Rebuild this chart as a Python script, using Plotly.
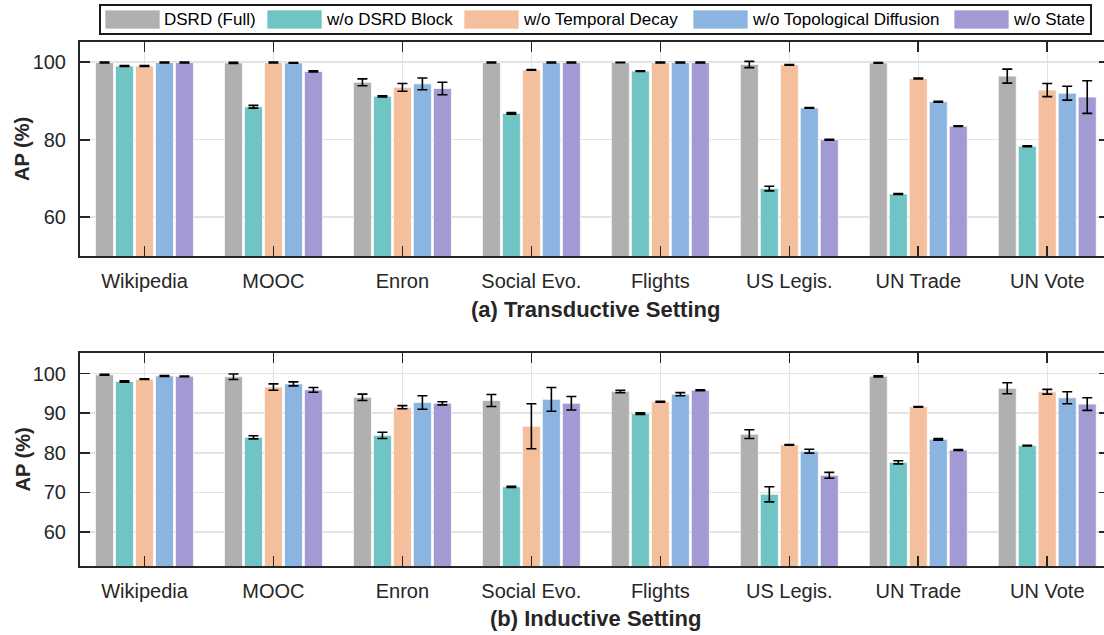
import plotly.graph_objects as go

categories = ["Wikipedia", "MOOC", "Enron", "Social Evo.", "Flights", "US Legis.", "UN Trade", "UN Vote"]
series_names = ["DSRD (Full)", "w/o DSRD Block", "w/o Temporal Decay", "w/o Topological Diffusion", "w/o State"]
series_colors = ["#b0b0b0", "#70c4c3", "#f4bf9c", "#8bb4e0", "#a29bd3"]

# (a) Transductive
full_t = [99.9, 99.8, 94.8, 99.9, 99.9, 99.4, 99.8, 96.4]
full_t_err = [0.1, 0.15, 0.9, 0.1, 0.05, 0.8, 0.1, 1.8]
block_t = [99.0, 88.5, 91.2, 86.8, 97.7, 67.4, 66.0, 78.3]
block_t_err = [0.1, 0.35, 0.15, 0.2, 0.1, 0.6, 0.1, 0.1]
decay_t = [99.0, 99.9, 93.5, 98.0, 99.9, 99.3, 95.8, 92.8]
decay_t_err = [0.1, 0.1, 1.0, 0.1, 0.1, 0.1, 0.1, 1.7]
diff_t = [99.9, 99.8, 94.4, 99.9, 99.9, 88.2, 89.8, 92.0]
diff_t_err = [0.1, 0.1, 1.5, 0.1, 0.1, 0.1, 0.1, 1.8]
state_t = [99.9, 97.6, 93.2, 99.9, 99.9, 80.0, 83.5, 91.0]
state_t_err = [0.1, 0.15, 1.6, 0.1, 0.1, 0.1, 0.1, 4.2]

# (b) Inductive
full_i = [99.7, 99.2, 94.0, 93.2, 95.5, 84.7, 99.3, 96.3]
full_i_err = [0.1, 0.7, 0.8, 1.5, 0.3, 1.1, 0.15, 1.4]
block_i = [98.0, 83.9, 84.4, 71.4, 89.9, 69.5, 77.6, 81.8]
block_i_err = [0.15, 0.4, 0.8, 0.15, 0.2, 1.9, 0.4, 0.1]
decay_i = [98.6, 96.6, 91.5, 86.7, 92.9, 82.0, 91.6, 95.4]
decay_i_err = [0.1, 0.8, 0.4, 5.7, 0.1, 0.1, 0.1, 0.6]
diff_i = [99.4, 97.4, 92.7, 93.5, 94.8, 80.4, 83.4, 93.9]
diff_i_err = [0.1, 0.5, 1.7, 3.0, 0.4, 0.5, 0.2, 1.5]
state_i = [99.3, 95.9, 92.5, 92.5, 95.8, 74.3, 80.7, 92.3]
state_i_err = [0.1, 0.6, 0.4, 1.7, 0.1, 0.75, 0.1, 1.6]

panel_a = [(full_t, full_t_err), (block_t, block_t_err), (decay_t, decay_t_err),
           (diff_t, diff_t_err), (state_t, state_t_err)]
panel_b = [(full_i, full_i_err), (block_i, block_i_err), (decay_i, decay_i_err),
           (diff_i, diff_i_err), (state_i, state_i_err)]

W, H = 1104, 635
ML = 80
FONT = "Liberation Sans, Arial, sans-serif"
AX = "#262626"
GRID = "#e3e3e3"

fig = go.Figure()

for panel, (xa, ya) in [(panel_a, ("x", "y")), (panel_b, ("x2", "y2"))]:
    for k, (vals, errs) in enumerate(panel):
        fig.add_trace(go.Bar(
            x=categories, y=vals, name=series_names[k], xaxis=xa, yaxis=ya,
            marker=dict(color=series_colors[k], line=dict(color="rgba(255,255,255,0.7)", width=1)),
            error_y=dict(type="data", array=errs, visible=True, color="#000000", thickness=1.6, width=5),
            offsetgroup=str(k), showlegend=False,
        ))

def py2paper(py):
    return 1 - py / H

def px2paper(px):
    return (px - ML) / (W - ML)

xr = [-0.5, 7.44]
common_x = dict(type="category", range=xr, showline=True, linecolor=AX, linewidth=2, mirror="ticks",
                ticks="inside", ticklen=10, tickwidth=1.6, tickcolor=AX, showgrid=True,
                gridcolor=GRID, gridwidth=1.5, tickfont=dict(family=FONT, size=20, color=AX),
                ticklabelstandoff=6, zeroline=False, fixedrange=True, automargin=False)
common_y = dict(showline=True, linecolor=AX, linewidth=2, mirror=False, ticks="inside", ticklen=10,
                tickwidth=1.6, tickcolor=AX, showgrid=True, gridcolor=GRID, gridwidth=1.5,
                tickfont=dict(family=FONT, size=20, color=AX), ticklabelstandoff=8,
                zeroline=False, automargin=False, fixedrange=True)

top_dom = [py2paper(256), py2paper(42)]
bot_dom = [py2paper(566), py2paper(353)]

fig.update_layout(
    width=W, height=H, margin=dict(l=ML, r=0, t=0, b=0, autoexpand=False),
    paper_bgcolor="white", plot_bgcolor="white",
    barmode="group", bargap=0.225, bargroupgap=0.1,
    xaxis=dict(**common_x, anchor="y"),
    yaxis=dict(**common_y, domain=top_dom, range=[50, 105.2], tickvals=[60, 80, 100], anchor="x"),
    xaxis2=dict(**common_x, anchor="y2"),
    yaxis2=dict(**common_y, domain=bot_dom, range=[51.4, 105.2], tickvals=[60, 70, 80, 90, 100], anchor="x2"),
    yaxis3=dict(overlaying="y", side="right", anchor="x", range=[50, 105.2], tickvals=[60, 80, 100],
                ticks="inside", ticklen=5, tickwidth=1.6, tickcolor=AX, showticklabels=False,
                showgrid=False, showline=False, zeroline=False, automargin=False, fixedrange=True),
    yaxis4=dict(overlaying="y2", side="right", anchor="x2", range=[51.4, 105.2],
                tickvals=[60, 70, 80, 90, 100], ticks="inside", ticklen=5, tickwidth=1.6, tickcolor=AX,
                showticklabels=False, showgrid=False, showline=False, zeroline=False, automargin=False,
                fixedrange=True),
    showlegend=False,
    hovermode=False,
)

# invisible anchors for the right-side tick axes
fig.add_trace(go.Scatter(x=[], y=[], xaxis="x", yaxis="y3", showlegend=False, hoverinfo="skip"))
fig.add_trace(go.Scatter(x=[], y=[], xaxis="x2", yaxis="y4", showlegend=False, hoverinfo="skip"))

# y-axis titles
for dom in (top_dom, bot_dom):
    fig.add_annotation(text="<b>AP (%)</b>", xref="paper", yref="paper", x=px2paper(22),
                       y=(dom[0] + dom[1]) / 2, xanchor="center", yanchor="middle", textangle=-90,
                       showarrow=False, font=dict(family=FONT, size=20, color=AX))

# panel titles
fig.add_annotation(text="<b>(a) Transductive Setting</b>", xref="x", yref="paper", x=3.5,
                   y=py2paper(309), xanchor="center", yanchor="middle", showarrow=False,
                   font=dict(family=FONT, size=22, color=AX))
fig.add_annotation(text="<b>(b) Inductive Setting</b>", xref="x2", yref="paper", x=3.5,
                   y=py2paper(618), xanchor="center", yanchor="middle", showarrow=False,
                   font=dict(family=FONT, size=22, color=AX))

# manual legend (large swatches like the reference)
legend_box = (100, 5, 1091, 34)
swatch_x = [105, 267, 464, 693, 954]
sw_w, sw_top, sw_bot = 55, 10, 29
fig.add_shape(type="rect", xref="paper", yref="paper",
              x0=px2paper(legend_box[0]), x1=px2paper(legend_box[2]),
              y0=py2paper(legend_box[3]), y1=py2paper(legend_box[1]),
              line=dict(color="#1a1a1a", width=2), fillcolor="white")
for k, name in enumerate(series_names):
    x0 = swatch_x[k]
    fig.add_shape(type="rect", xref="paper", yref="paper",
                  x0=px2paper(x0), x1=px2paper(x0 + sw_w),
                  y0=py2paper(sw_bot), y1=py2paper(sw_top),
                  line=dict(color="rgba(255,255,255,0.7)", width=1), fillcolor=series_colors[k])
    fig.add_annotation(text=name, xref="paper", yref="paper", x=px2paper(x0 + sw_w + 2),
                       y=py2paper((sw_top + sw_bot) / 2), xanchor="left", yanchor="middle",
                       showarrow=False, font=dict(family=FONT, size=17, color="#000000"))

fig.write_html("out.html", config={"displayModeBar": False, "staticPlot": True},
               post_script="document.body.style.margin='0';document.body.style.padding='0';")
